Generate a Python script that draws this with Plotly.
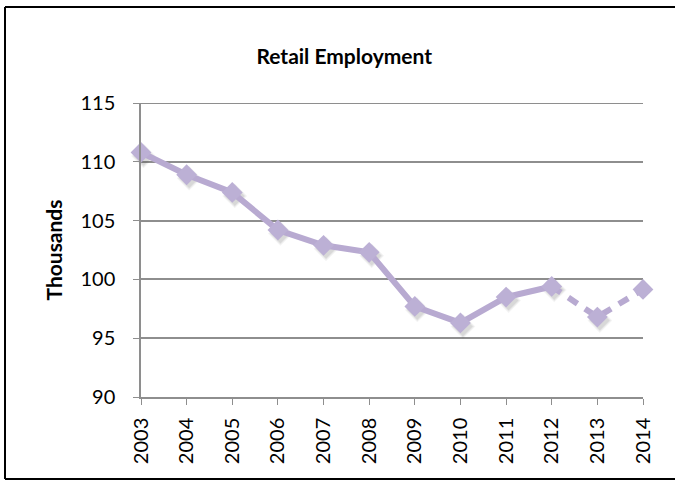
import plotly.graph_objects as go

# Retail employment, thousands of jobs
years = [2003, 2004, 2005, 2006, 2007, 2008, 2009, 2010, 2011, 2012, 2013, 2014]
employment = [110.8, 108.9, 107.4, 104.2, 102.9, 102.3, 97.7, 96.3, 98.5, 99.4, 96.8, 99.15]
y_ticks = [90, 95, 100, 105, 110, 115]

# last reported year is where the estimated (dashed) part starts
split = years.index(2012)

LINE = "#B8AAD1"
MARKER = "#BCB0D5"
GRID = "#8E8E8E"
FONT = "Lato"

x_range = [2003, 2014]
y_range = [90, 115]

fig = go.Figure()

# soft drop shadow under the markers, drawn on slightly offset overlay axes (x2/y2)
for size, alpha in [(19, 0.06), (17, 0.07), (15, 0.09)]:
    fig.add_trace(go.Scatter(
        x=years, y=employment, mode="markers", xaxis="x2", yaxis="y2",
        marker=dict(symbol="diamond", size=size, color=f"rgba(70,70,70,{alpha})", line=dict(width=0)),
        hoverinfo="skip", showlegend=False, cliponaxis=False,
    ))

# the series itself sits on unshifted overlay axes (x3/y3) so it is drawn above the shadow
fig.add_trace(go.Scatter(
    x=years[:split + 1], y=employment[:split + 1], mode="lines", xaxis="x3", yaxis="y3",
    line=dict(color=LINE, width=6), showlegend=False, cliponaxis=False,
))
fig.add_trace(go.Scatter(
    x=years[split:], y=employment[split:], mode="lines", xaxis="x3", yaxis="y3",
    line=dict(color=LINE, width=6, dash="11px,9px"), showlegend=False, cliponaxis=False,
))
fig.add_trace(go.Scatter(
    x=years, y=employment, mode="markers", xaxis="x3", yaxis="y3",
    marker=dict(symbol="diamond", size=16, color=MARKER, line=dict(width=0)),
    showlegend=False, cliponaxis=False,
))

px_per_year = 502 / (x_range[1] - x_range[0])
px_per_unit = 294 / (y_range[1] - y_range[0])
dx = 2.5 / px_per_year
dy = 3.5 / px_per_unit

# outer chart frame: left, top and bottom edges (the right edge lies off-page)
left, right, bottom, top = -136 / 502, 600 / 502, -82 / 294, (294 + 96) / 294
frame = [
    dict(x0=left, x1=left, y0=bottom, y1=top),
    dict(x0=left, x1=right, y0=top, y1=top),
    dict(x0=left, x1=right, y0=bottom, y1=bottom),
]
shapes = [dict(type="line", xref="paper", yref="paper", line=dict(color="black", width=2), **f)
          for f in frame]
# gridline at the top of the value range
shapes.append(dict(type="line", xref="paper", yref="y", x0=0, x1=1,
                   y0=y_ticks[-1], y1=y_ticks[-1], line=dict(color=GRID, width=2.2), layer="below"))

fig.update_layout(
    width=675, height=481,
    margin=dict(l=141, r=32, t=103, b=84),
    paper_bgcolor="white", plot_bgcolor="white",
    font=dict(family=FONT, size=20, color="black"),
    title=dict(text="<b>Retail Employment</b>", x=0.51, xanchor="center",
               y=1 - 57 / 481, yanchor="middle", font=dict(size=21)),
    xaxis=dict(
        range=x_range, tickmode="array", tickvals=years, ticktext=[str(y) for y in years],
        tickangle=-90, showgrid=False, showline=True, linecolor=GRID, linewidth=1.5,
        ticks="outside", ticklen=6, tickcolor=GRID, tickwidth=1.3, zeroline=False,
        tickfont=dict(size=20), ticklabelstandoff=5,
    ),
    yaxis=dict(
        range=y_range, tickmode="array", tickvals=y_ticks,
        showgrid=True, gridcolor=GRID, gridwidth=1.5, showline=True, linecolor=GRID, linewidth=1.5,
        ticks="outside", ticklen=6, tickcolor=GRID, tickwidth=1.3, zeroline=False,
        title=dict(text="<b>Thousands</b>", standoff=12, font=dict(size=21)),
        tickfont=dict(size=20), ticklabelstandoff=14,
    ),
    xaxis2=dict(range=[x_range[0] - dx, x_range[1] - dx], overlaying="x", visible=False),
    yaxis2=dict(range=[y_range[0] + dy, y_range[1] + dy], overlaying="y", visible=False),
    xaxis3=dict(range=x_range, overlaying="x", visible=False),
    yaxis3=dict(range=y_range, overlaying="y", visible=False),
    shapes=shapes,
)

fig.write_html("out.html")
